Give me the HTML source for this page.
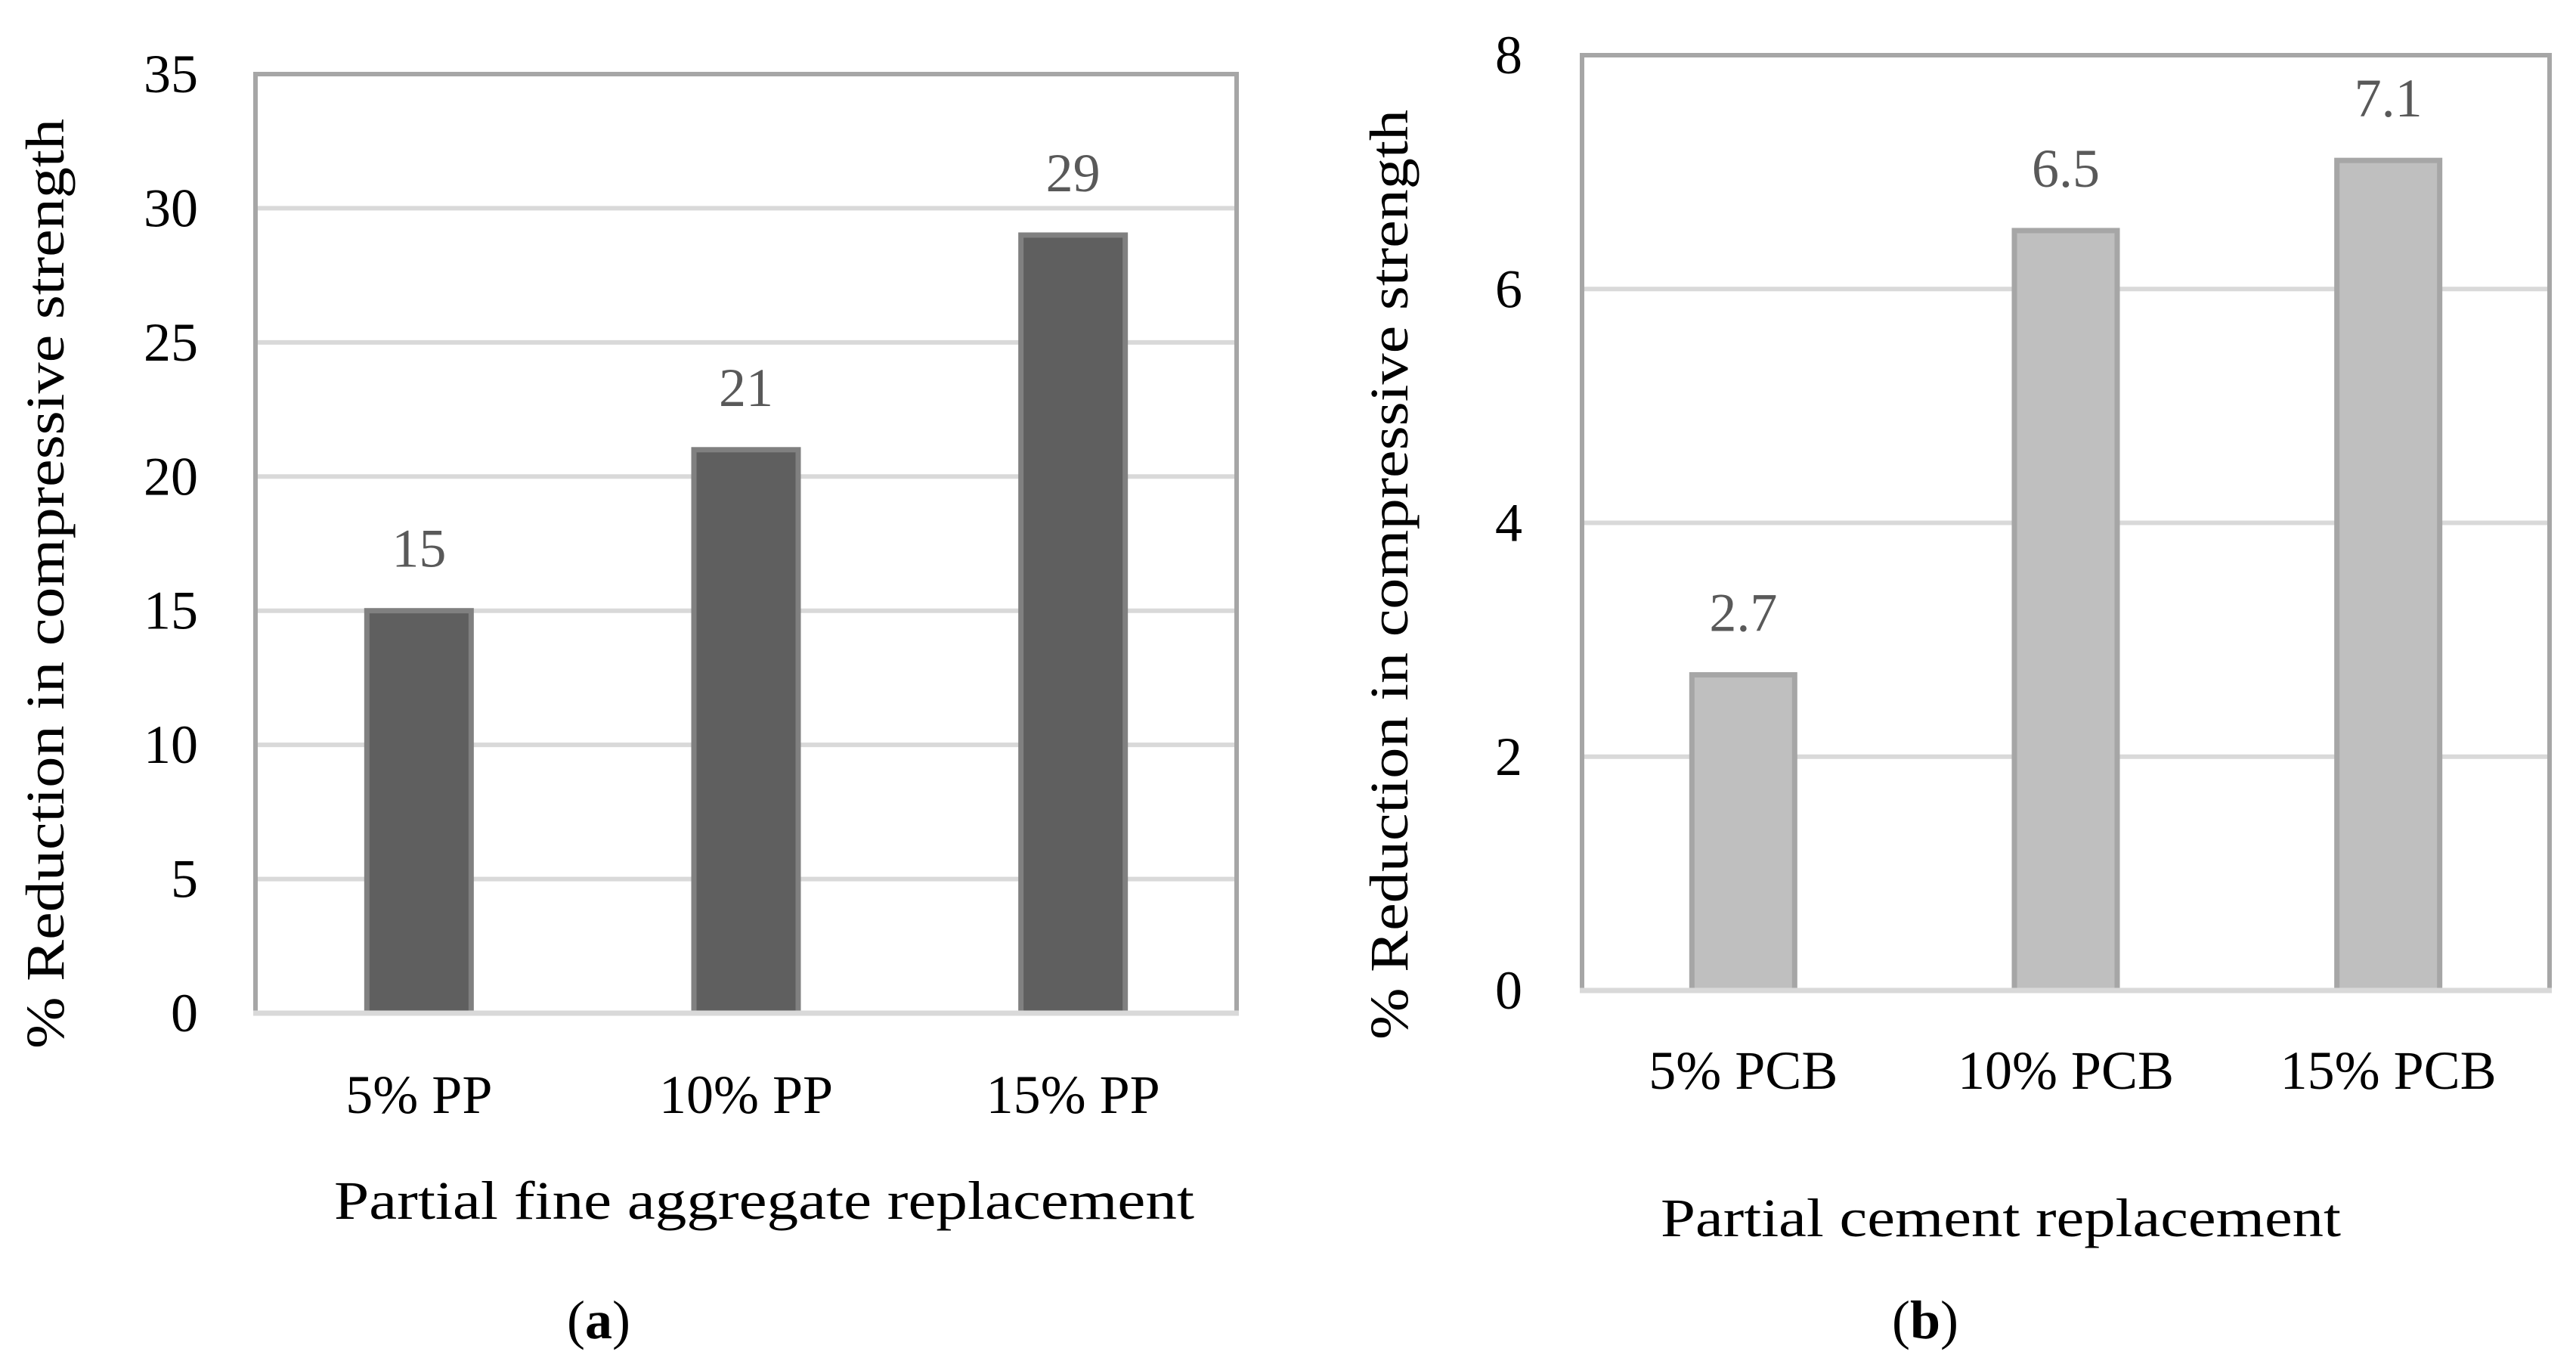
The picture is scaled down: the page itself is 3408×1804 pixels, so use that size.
<!DOCTYPE html>
<html><head><meta charset="utf-8"><style>
html,body{margin:0;padding:0;background:#fff;}
svg{display:block;}
text{font-family:"Liberation Serif",serif;}
</style></head><body>
<svg id="svg" width="3408" height="1804" viewBox="0 0 3408 1804" xmlns="http://www.w3.org/2000/svg"></svg>
<script>
const catsA = ["5% PP","10% PP","15% PP"];
const valsA = [15,21,29];
const ticksA = [0,5,10,15,20,25,30,35];
const catsB = ["5% PCB","10% PCB","15% PCB"];
const valsB = [2.7,6.5,7.1];
const labelsB = ["2.7","6.5","7.1"];
const ticksB = [0,2,4,6,8];

const NS="http://www.w3.org/2000/svg";
const svg=document.getElementById('svg');
function mk(tag,attrs,parent,txt){const e=document.createElementNS(NS,tag);for(const k in attrs)e.setAttribute(k,attrs[k]);if(txt!==undefined)e.textContent=txt;(parent||svg).appendChild(e);return e;}

function chart(cfg){
  const g=mk('g',{});
  
  
  const y=v=>cfg.y0-(v-cfg.vmin)/(cfg.vmax-cfg.vmin)*(cfg.y0-cfg.y1);
  const bw=(cfg.x1-cfg.x0)/cfg.cats.length;
  const xc=i=>cfg.x0+bw*(i+0.5);
  // gridlines
  cfg.ticks.forEach(t=>{
    if(t!==cfg.vmin && t!==cfg.vmax){
      const l=mk('line',{x1:cfg.x0,x2:cfg.x1,y1:y(t),y2:y(t),stroke:'#d9d9d9','stroke-width':6},g);
      
      
    }
    const tl=mk('text',{x:cfg.tickX,y:y(t)+24,'text-anchor':'end','font-size':72,fill:'#000'},g,String(t));
    
    
  });
  // frame (left/top/right)
  const fr=mk('path',{d:`M${cfg.x0},${cfg.y0} L${cfg.x0},${cfg.y1} L${cfg.x1},${cfg.y1} L${cfg.x1},${cfg.y0}`,fill:'none',stroke:'#a6a6a6','stroke-width':6},g);
  
  
  // bars
  cfg.vals.forEach((v,i)=>{
    const top=y(v);
    const b=mk('rect',{x:xc(i)-cfg.barW/2,y:top,width:cfg.barW,height:cfg.y0-top,fill:cfg.fill,stroke:cfg.stroke,'stroke-width':7},g);
    
    
    const dl=mk('text',{x:xc(i),y:top-58,'text-anchor':'middle','font-size':72,fill:'#595959'},g,cfg.labels[i]);
    
    
    const cl=mk('text',{x:xc(i),y:cfg.catY,'text-anchor':'middle','font-size':72,fill:'#000'},g,cfg.cats[i]);
    
    
  });
  // baseline
  const bl=mk('line',{x1:cfg.x0-3,x2:cfg.x1+3,y1:cfg.y0,y2:cfg.y0,stroke:'#d9d9d9','stroke-width':7},g);
  
  
  const xt=mk('text',{x:cfg.xtX,y:cfg.xtY,'text-anchor':'middle','font-size':72,fill:'#000',textLength:cfg.xtLen,lengthAdjust:'spacingAndGlyphs'},g,cfg.xTitle);
  
  
  const yt=mk('text',{x:0,y:0,'text-anchor':'middle','font-size':72,fill:'#000',transform:`translate(${cfg.ytX},${cfg.ytY}) rotate(-90)`,textLength:1230,lengthAdjust:'spacingAndGlyphs'},g,'% Reduction in compressive strength');
  
  
  const pl=mk('text',{x:cfg.plX,y:1770,'text-anchor':'middle','font-size':72,fill:'#000'},g);
  
  
  mk('tspan',{},pl,'(');
  mk('tspan',{'font-weight':'bold'},pl,cfg.panel);
  mk('tspan',{},pl,')');
}

chart({name:'chart-a',cats:catsA,vals:valsA,labels:valsA.map(String),ticks:ticksA,vmin:0,vmax:35,
  x0:338,x1:1636,y0:1340,y1:98,barW:138,fill:'#5f5f5f',stroke:'#808080',tickX:262,catY:1472,
  xTitle:'Partial fine aggregate replacement',xtX:1011,xtY:1612,xtLen:1138,ytX:84,ytY:772,plX:792,panel:'a'});
chart({name:'chart-b',cats:catsB,vals:valsB,labels:labelsB,ticks:ticksB,vmin:0,vmax:8,
  x0:2093,x1:3373,y0:1310,y1:73,barW:136,fill:'#bfbfbf',stroke:'#a6a6a6',tickX:2014,catY:1440,
  xTitle:'Partial cement replacement',xtX:2647,xtY:1635,xtLen:900,ytX:1862,ytY:760,plX:2547,panel:'b'});
</script>
</body></html>
